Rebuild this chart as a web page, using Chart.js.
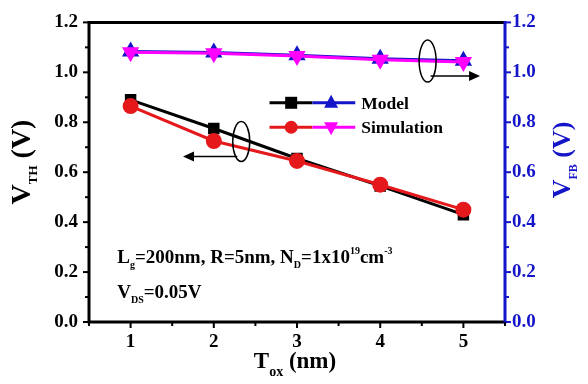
<!DOCTYPE html>
<html>
<head>
<meta charset="utf-8">
<script src="https://cdn.jsdelivr.net/npm/chart.js@4/dist/chart.umd.min.js"></script>
<style>
  html, body { margin: 0; padding: 0; background: #fff; }
  #container { width: 588px; height: 384px; }
</style>
</head>
<body>
<div id="container"><canvas id="myChart" width="588" height="384"></canvas></div>
<script>
// values
const tox = [1, 2, 3, 4, 5];
const vthModel = [0.89, 0.775, 0.655, 0.545, 0.43];
const vthSim = [0.865, 0.725, 0.645, 0.55, 0.45];
const vfbModel = [1.083, 1.079, 1.068, 1.054, 1.046];
const vfbSim = [1.08, 1.076, 1.065, 1.05, 1.041];
const yTicks = [0, 0.2, 0.4, 0.6, 0.8, 1.0, 1.2];

const SERIF = '"Liberation Serif", "DejaVu Serif", serif';
const BLUE = '#1414c8';

function pts(ys) {
    return tox.map((x, i) => ({ x: x, y: ys[i] }));
}

// draw text made of pieces: [text, size, dy]
function rich(ctx, parts, x, y, align, color) {
    let w = 0;
    parts.forEach(p => {
        ctx.font = 'bold ' + p[1] + 'px ' + SERIF;
        w += ctx.measureText(p[0]).width;
    });
    let cx = align === 'center' ? x - w / 2 : x;
    ctx.fillStyle = color || '#000';
    ctx.textAlign = 'left';
    ctx.textBaseline = 'alphabetic';
    parts.forEach(p => {
        ctx.font = 'bold ' + p[1] + 'px ' + SERIF;
        ctx.fillText(p[0], cx, y + (p[2] || 0));
        cx += ctx.measureText(p[0]).width;
    });
}

function marker(ctx, kind, x, y, color) {
    ctx.fillStyle = color;
    ctx.beginPath();
    if (kind === 'rect') {
        ctx.rect(x - 6, y - 6, 12, 12);
    } else if (kind === 'circle') {
        ctx.arc(x, y, 6.5, 0, Math.PI * 2);
    } else if (kind === 'up') {
        ctx.moveTo(x, y - 8); ctx.lineTo(x + 7, y + 5); ctx.lineTo(x - 7, y + 5);
    } else {
        ctx.moveTo(x, y + 8); ctx.lineTo(x + 7, y - 5); ctx.lineTo(x - 7, y - 5);
    }
    ctx.closePath();
    ctx.fill();
}

function arrow(ctx, x1, x2, y) {
    const dir = x2 > x1 ? 1 : -1;
    ctx.strokeStyle = '#000';
    ctx.fillStyle = '#000';
    ctx.lineWidth = 1.5;
    ctx.beginPath();
    ctx.moveTo(x1, y); ctx.lineTo(x2 - dir * 8, y);
    ctx.stroke();
    ctx.beginPath();
    ctx.moveTo(x2, y); ctx.lineTo(x2 - dir * 11, y - 5); ctx.lineTo(x2 - dir * 11, y + 5);
    ctx.closePath();
    ctx.fill();
}

const decor = {
    id: 'decor',
    afterDatasetsDraw(chart) {
        const ctx = chart.ctx;
        const a = chart.chartArea;
        const xs = chart.scales.x, yl = chart.scales.y;
        ctx.save();

        // frame
        ctx.lineWidth = 3;
        ctx.strokeStyle = '#000';
        ctx.beginPath();
        ctx.moveTo(a.right, a.top); ctx.lineTo(a.left, a.top);
        ctx.lineTo(a.left, a.bottom); ctx.lineTo(a.right, a.bottom);
        ctx.stroke();
        ctx.strokeStyle = BLUE;
        ctx.beginPath();
        ctx.moveTo(a.right, a.top - 1.5); ctx.lineTo(a.right, a.bottom + 1.5);
        ctx.stroke();

        // ticks, major and minor
        ctx.lineWidth = 2;
        for (let i = 0; i <= 12; i++) {
            const len = i % 2 === 0 ? 6 : 4;
            const py = yl.getPixelForValue(i / 10);
            ctx.strokeStyle = '#000';
            ctx.beginPath(); ctx.moveTo(a.left, py); ctx.lineTo(a.left - len, py); ctx.stroke();
            ctx.strokeStyle = BLUE;
            ctx.beginPath(); ctx.moveTo(a.right, py); ctx.lineTo(a.right + len, py); ctx.stroke();
        }
        ctx.strokeStyle = '#000';
        for (let v = 0.5; v <= 5.5; v += 0.5) {
            const len = Number.isInteger(v) ? 6 : 4;
            const px = xs.getPixelForValue(v);
            ctx.beginPath(); ctx.moveTo(px, a.bottom); ctx.lineTo(px, a.bottom + len); ctx.stroke();
        }

        // ellipses and arrows
        const ex1 = xs.getPixelForValue(4.57), ey1 = yl.getPixelForValue(1.045);
        ctx.strokeStyle = '#000';
        ctx.lineWidth = 1.5;
        ctx.beginPath(); ctx.ellipse(ex1, ey1, 8.5, 21, 0, 0, Math.PI * 2); ctx.stroke();
        arrow(ctx, ex1 + 3, xs.getPixelForValue(5.2), yl.getPixelForValue(0.985));

        const ex2 = xs.getPixelForValue(2.33), ey2 = yl.getPixelForValue(0.723);
        ctx.beginPath(); ctx.ellipse(ex2, ey2, 8.5, 20, 0, 0, Math.PI * 2); ctx.stroke();
        arrow(ctx, ex2 - 4, xs.getPixelForValue(1.63), yl.getPixelForValue(0.663));

        // legend
        const lx1 = xs.getPixelForValue(2.67), lx2 = xs.getPixelForValue(3.7);
        const rows = [
            { y: yl.getPixelForValue(0.878), label: 'Model', c1: '#000', c2: BLUE, m1: 'rect', m2: 'up' },
            { y: yl.getPixelForValue(0.78), label: 'Simulation', c1: '#e5191b', c2: '#ff00ff', m1: 'circle', m2: 'down' }
        ];
        rows.forEach(r => {
            const mid = (lx1 + lx2) / 2;
            ctx.lineWidth = 3;
            ctx.strokeStyle = r.c1;
            ctx.beginPath(); ctx.moveTo(lx1, r.y); ctx.lineTo(mid, r.y); ctx.stroke();
            ctx.strokeStyle = r.c2;
            ctx.beginPath(); ctx.moveTo(mid, r.y); ctx.lineTo(lx2, r.y); ctx.stroke();
            marker(ctx, r.m1, xs.getPixelForValue(2.93), r.y, r.c1);
            marker(ctx, r.m2, xs.getPixelForValue(3.41), r.y, r.c2);
            rich(ctx, [[r.label, 17.5]], lx2 + 6, r.y + 6);
        });

        // condition text
        const tx = xs.getPixelForValue(0.84);
        rich(ctx, [['L', 19], ['g', 10, 5], ['=200nm, R=5nm, N', 19], ['D', 10, 5], ['=1x10', 19], ['19', 10, -9], ['cm', 19], ['-3', 10, -9]],
            tx, yl.getPixelForValue(0.235));
        rich(ctx, [['V', 19], ['DS', 10, 5], ['=0.05V', 19]], tx, yl.getPixelForValue(0.097));

        // axis titles
        rich(ctx, [['T', 23], ['ox', 14, 8], [' (nm)', 23]], 295, 368, 'center');

        ctx.save();
        ctx.translate(30, 162);
        ctx.rotate(-Math.PI / 2);
        rich(ctx, [['V', 28], ['TH', 13, 7], [' (V)', 28]], 0, 0, 'center');
        ctx.restore();

        ctx.save();
        ctx.translate(570, 160);
        ctx.rotate(-Math.PI / 2);
        rich(ctx, [['V', 26], ['FB', 12, 7], [' (V)', 26]], 0, 0, 'center', BLUE);
        ctx.restore();

        ctx.restore();
    }
};

function setup() {
    const ctx = document.getElementById('myChart').getContext('2d');
    const tickFont = { family: SERIF, size: 19, weight: 'bold' };
    new Chart(ctx, {
        type: 'line',
        data: {
            datasets: [{
                label: 'Model VTH',
                data: pts(vthModel),
                yAxisID: 'y',
                borderColor: '#000',
                backgroundColor: '#000',
                pointStyle: 'rect',
                pointRadius: 6,
                borderWidth: 3,
                order: 3
            }, {
                label: 'Simulation VTH',
                data: pts(vthSim),
                yAxisID: 'y',
                borderColor: '#e5191b',
                backgroundColor: '#e5191b',
                pointStyle: 'circle',
                pointRadius: 6.5,
                borderWidth: 3,
                order: 2
            }, {
                label: 'Model VFB',
                data: pts(vfbModel),
                yAxisID: 'y2',
                borderColor: BLUE,
                backgroundColor: BLUE,
                pointStyle: 'triangle',
                pointRadius: 7,
                borderWidth: 3,
                order: 1
            }, {
                label: 'Simulation VFB',
                data: pts(vfbSim),
                yAxisID: 'y2',
                borderColor: '#ff00ff',
                backgroundColor: '#ff00ff',
                pointStyle: 'triangle',
                rotation: 180,
                pointRadius: 7,
                borderWidth: 3,
                order: 0
            }]
        },
        options: {
            responsive: false,
            animation: false,
            layout: { padding: { top: 20 } },
            plugins: { legend: { display: false }, tooltip: { enabled: false } },
            scales: {
                x: {
                    type: 'linear',
                    min: 0.5,
                    max: 5.5,
                    grid: { display: false, drawTicks: false },
                    border: { display: false },
                    afterBuildTicks: s => { s.ticks = tox.map(v => ({ value: v })); },
                    afterFit: s => { s.height = 62; },
                    ticks: { font: tickFont, color: '#000', padding: 9, maxRotation: 0 }
                },
                y: {
                    position: 'left',
                    min: 0,
                    max: 1.2,
                    grid: { display: false, drawTicks: false },
                    border: { display: false },
                    afterBuildTicks: s => { s.ticks = yTicks.map(v => ({ value: v })); },
                    afterFit: s => { s.width = 89; },
                    ticks: { font: tickFont, color: '#000', padding: 11, callback: v => v.toFixed(1) }
                },
                y2: {
                    position: 'right',
                    min: 0,
                    max: 1.2,
                    grid: { display: false, drawTicks: false },
                    border: { display: false },
                    afterBuildTicks: s => { s.ticks = yTicks.map(v => ({ value: v })); },
                    afterFit: s => { s.width = 83; },
                    ticks: { font: tickFont, color: BLUE, padding: 7, callback: v => v.toFixed(1) }
                }
            }
        },
        plugins: [decor]
    });
}

window.addEventListener('load', setup);
</script>
</body>
</html>
